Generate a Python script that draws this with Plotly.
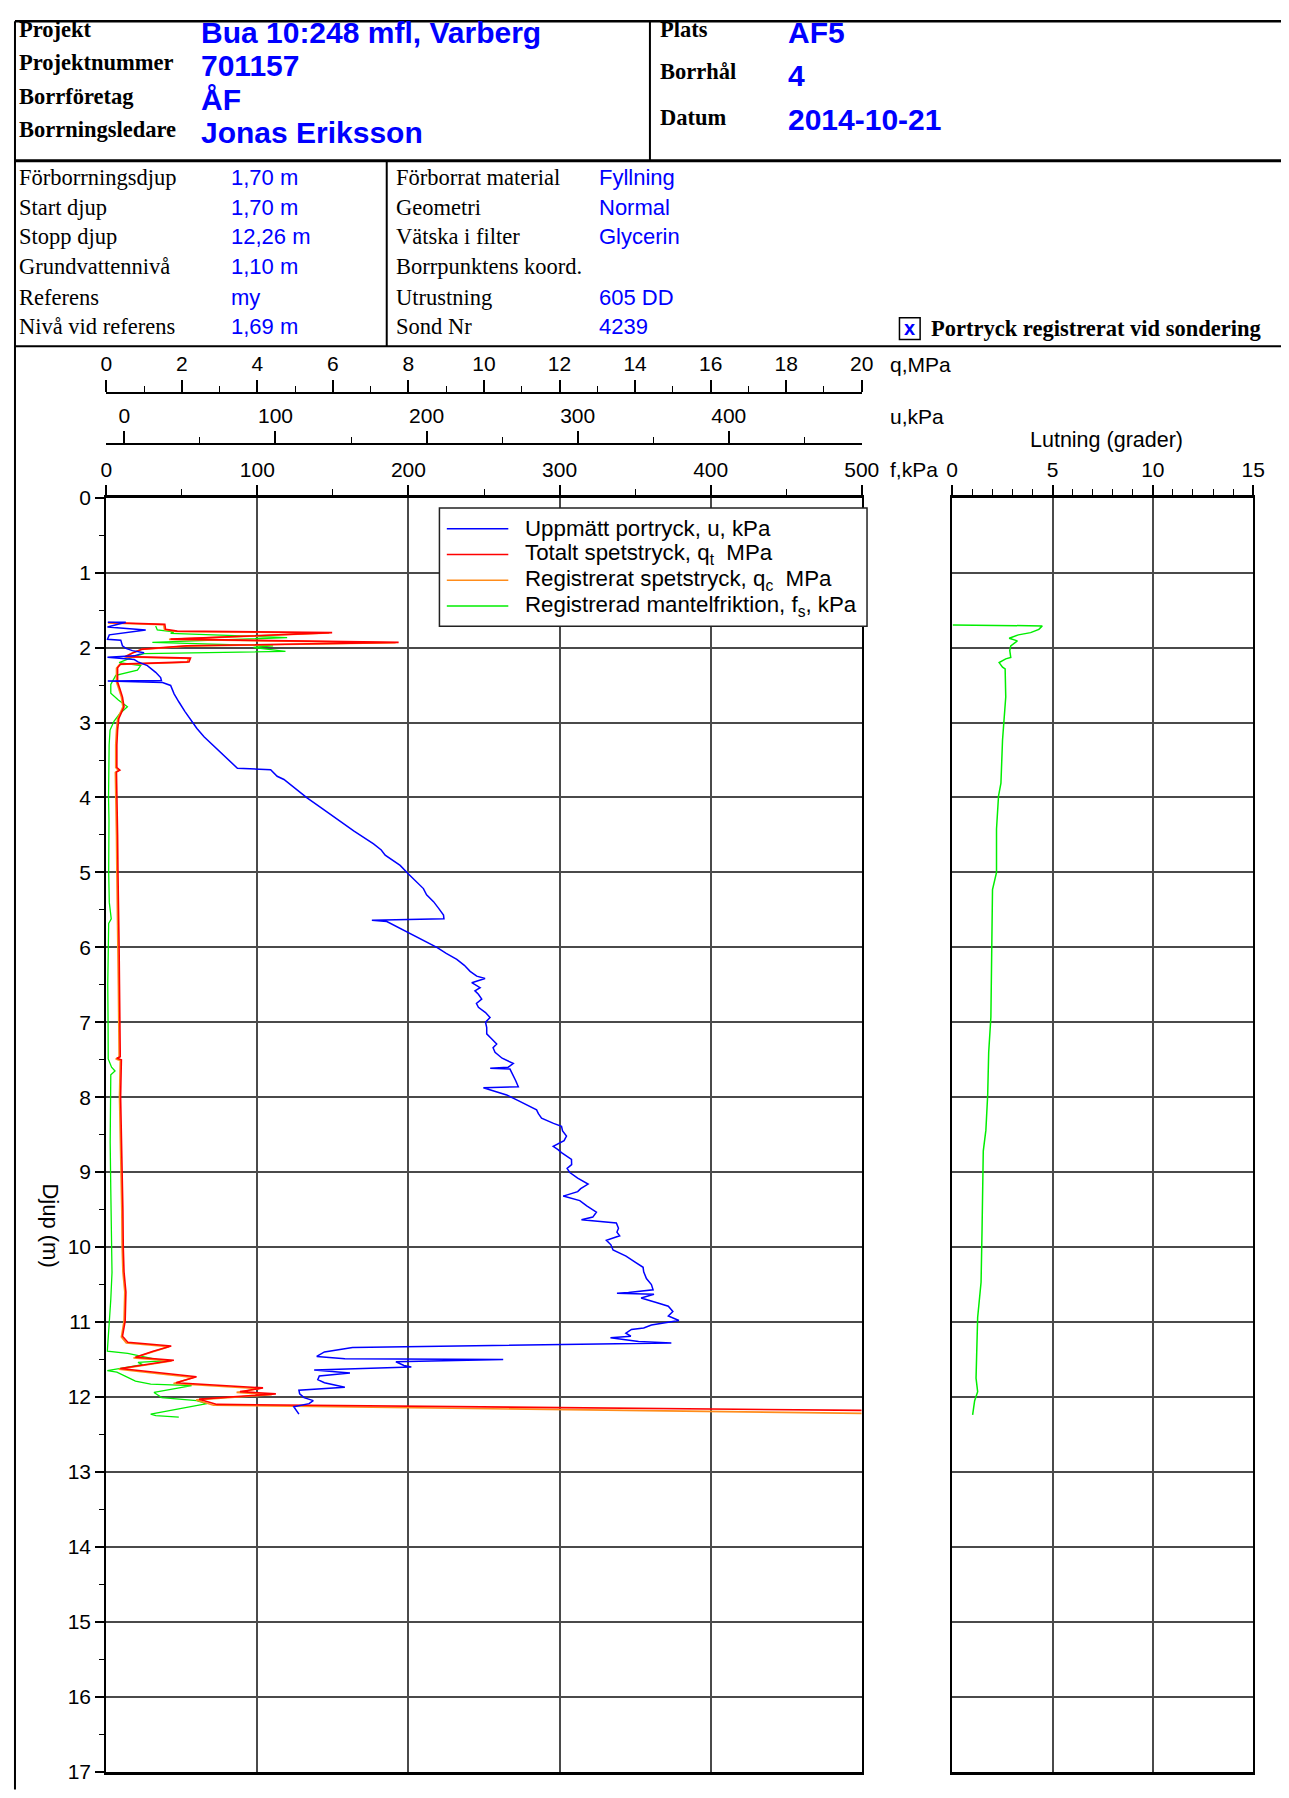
import plotly.graph_objects as go

# ---------------- DATA ----------------
# Uppmätt portryck u (kPa) vs depth (m)
depth_u = [1.66, 1.662, 1.725, 1.765, 1.83, 1.888, 1.90, 1.976, 2.01, 2.04, 2.07, 2.11, 2.13, 2.16, 2.19,
           2.24, 2.33, 2.40, 2.44, 2.445, 2.466, 2.505, 2.617, 2.66, 2.726, 2.85, 2.968, 3.08, 3.19, 3.31,
           3.43, 3.53, 3.61, 3.63, 3.717, 3.76, 3.88, 4.004, 4.15, 4.29, 4.45, 4.62, 4.70, 4.77, 4.84,
           4.907, 5.02, 5.12, 5.216, 5.30, 5.39, 5.48, 5.57, 5.62, 5.638, 5.656, 5.72, 5.79, 5.90, 6.00,
           6.08, 6.16, 6.24, 6.32, 6.384, 6.415, 6.472, 6.538, 6.58, 6.627, 6.69, 6.75, 6.80, 6.87, 6.935,
           7.00, 7.07, 7.155, 7.22, 7.29, 7.34, 7.40, 7.48, 7.55, 7.60, 7.615, 7.625, 7.71, 7.78, 7.86,
           7.875, 7.92, 7.97, 8.04, 8.10, 8.17, 8.22, 8.28, 8.35, 8.39, 8.45, 8.52, 8.58, 8.656, 8.70,
           8.74, 8.83, 8.90, 8.95, 9.006, 9.08, 9.16, 9.22, 9.26, 9.32, 9.38, 9.45, 9.534, 9.60, 9.636,
           9.68, 9.75, 9.80, 9.85, 9.91, 9.97, 10.04, 10.12, 10.20, 10.27, 10.33, 10.42, 10.50, 10.57,
           10.605, 10.615, 10.63, 10.68, 10.74, 10.79, 10.86, 10.92, 10.98, 11.04, 11.08, 11.10, 11.15,
           11.19, 11.21, 11.26, 11.28, 11.34, 11.40, 11.46, 11.49, 11.50, 11.53, 11.58, 11.60, 11.64,
           11.68, 11.72, 11.77, 11.81, 11.87, 11.91, 11.96, 12.01, 12.05, 12.09, 12.13, 12.18, 12.23]
u_kpa = [-11.0, 0.9, -11.2, 14.1, -10.0, -11.2, -2.4, -1.3, 1.0, 5.3, 13.0, 6.5, -11.2, 6.5, 9.0,
         15.2, 20.7, 24.0, 24.5, -11.0, 25.2, 30.6, 32.9, 34.0, 36.1, 40.0, 43.9, 48.0, 52.7, 59.0,
         66.0, 71.0, 74.8, 96.8, 101.1, 105.6, 113.0, 120.9, 131.0, 140.7, 152.0, 164.9, 170.0, 172.6, 178.0,
         182.5, 188.0, 193.0, 197.9, 200.0, 204.6, 208.0, 211.2, 211.5, 163.8, 173.7, 180.0, 187.0, 197.0, 206.8,
         213.0, 220.0, 225.0, 228.8, 233.2, 238.7, 229.9, 235.4, 232.0, 234.3, 236.5, 233.0, 234.3, 239.0, 242.0,
         239.0, 239.8, 239.8, 243.0, 246.4, 244.0, 245.3, 250.0, 257.4, 254.0, 242.1, 255.2, 257.4, 259.0, 260.7,
         237.6, 245.0, 253.0, 260.0, 266.2, 272.8, 274.0, 276.1, 284.0, 289.3, 290.0, 292.6, 291.0, 283.8, 287.0,
         289.3, 295.9, 296.0, 293.0, 294.8, 300.0, 306.9, 302.0, 300.0, 290.4, 301.4, 306.0, 312.4, 310.0, 302.5,
         325.6, 327.0, 326.0, 327.8, 319.0, 322.0, 323.4, 332.0, 338.0, 343.3, 343.7, 345.5, 348.8, 349.9,
         333.6, 326.0, 350.5, 342.0, 352.0, 360.0, 363.0, 360.0, 367.0, 348.8, 343.7, 335.6, 331.9,
         335.2, 321.7, 340.3, 362.0, 151.0, 132.4, 127.3, 145.9, 250.7, 179.7, 185.0, 189.9, 125.6,
         149.3, 129.0, 128.0, 132.4, 145.9, 115.5, 116.0, 118.9, 125.0, 122.2, 112.1, 114.0, 115.5]

# Totalt spetstryck qt (MPa)
depth_qt = [1.665, 1.69, 1.756, 1.78, 1.80, 1.887, 1.93, 1.976, 2.02, 2.064, 2.12, 2.14, 2.19, 2.22,
            2.27, 2.46, 2.55, 2.66, 2.79, 2.95, 3.10, 3.30, 3.60, 3.635, 3.66, 4.00, 4.50, 5.00, 5.50,
            6.00, 6.50, 7.00, 7.46, 7.48, 7.50, 8.00, 8.50, 9.00, 9.50, 10.00, 10.33, 10.60, 10.99,
            11.19, 11.27, 11.32, 11.39, 11.47, 11.51, 11.62, 11.68, 11.73, 11.81, 11.88, 11.93, 11.96,
            12.03, 12.10, 12.18]
qt_mpa = [0.05, 1.55, 1.57, 1.88, 5.98, 1.70, 7.74, 2.14, 0.96, 0.73, 0.51, 2.23, 2.19, 0.38,
          0.30, 0.30, 0.36, 0.43, 0.47, 0.33, 0.30, 0.28, 0.28, 0.36, 0.27, 0.29, 0.30, 0.31, 0.33,
          0.34, 0.35, 0.36, 0.37, 0.28, 0.40, 0.38, 0.40, 0.43, 0.44, 0.45, 0.47, 0.52, 0.50,
          0.43, 0.57, 1.72, 1.24, 0.77, 1.79, 0.37, 1.45, 2.39, 1.85, 4.15, 3.54, 4.49,
          2.46, 2.93, 20.0]

# Registrerat spetstryck qc (MPa)
depth_qc = [1.67, 1.695, 1.76, 1.785, 1.805, 1.89, 1.935, 1.98, 2.025, 2.07, 2.125, 2.145, 2.195, 2.225,
            2.275, 2.46, 2.55, 2.66, 2.79, 2.95, 3.10, 3.30, 3.60, 3.64, 3.665, 4.00, 4.50, 5.00, 5.50,
            6.00, 6.50, 7.00, 7.47, 7.49, 7.51, 8.00, 8.50, 9.00, 9.50, 10.00, 10.33, 10.60, 10.99,
            11.20, 11.28, 11.33, 11.40, 11.48, 11.52, 11.63, 11.69, 11.74, 11.82, 11.89, 11.94, 11.97,
            12.04, 12.11, 12.22]
qc_mpa = [0.05, 1.52, 1.54, 1.84, 5.90, 1.66, 7.66, 2.10, 0.93, 0.70, 0.48, 2.18, 2.14, 0.35,
          0.27, 0.27, 0.33, 0.40, 0.44, 0.30, 0.27, 0.25, 0.25, 0.32, 0.24, 0.26, 0.27, 0.28, 0.30,
          0.31, 0.32, 0.33, 0.34, 0.25, 0.37, 0.35, 0.37, 0.40, 0.41, 0.42, 0.44, 0.49, 0.47,
          0.40, 0.53, 1.66, 1.19, 0.72, 1.73, 0.33, 1.39, 2.31, 1.78, 4.05, 3.45, 4.38,
          2.38, 2.84, 20.0]

# Registrerad mantelfriktion fs (kPa)
depth_fs = [1.711, 1.765, 1.79, 1.81, 1.866, 1.89, 1.93, 1.976, 1.998, 2.05, 2.08, 2.12, 2.20, 2.24,
            2.30, 2.37, 2.49, 2.61, 2.70, 2.79, 2.88, 2.98, 3.10, 3.30, 3.65, 4.00, 4.30, 4.70, 5.00,
            5.40, 5.62, 5.68, 6.00, 6.50, 7.00, 7.49, 7.60, 7.65, 7.70, 8.15, 8.60, 9.24, 9.80, 10.34,
            10.70, 10.90, 11.20, 11.39, 11.42, 11.52, 11.54, 11.57, 11.65, 11.67, 11.74, 11.79, 11.83,
            11.85, 11.94, 12.01, 12.05, 12.09, 12.23, 12.25, 12.27]
fs_kpa = [32.7, 33.8, 44.8, 42.6, 119.7, 88.9, 30.5, 110.4, 97.4, 118.6, 25.0, 18.4, 8.5, 22.8,
          20.6, 6.3, 3.0, 3.0, 8.0, 14.0, 9.0, 5.2, 2.5, 1.9, 1.6, 1.5, 1.8, 1.4, 1.6,
          2.0, 3.3, 1.6, 1.2, 1.0, 1.2, 1.3, 3.5, 5.8, 3.0, 2.8, 2.6, 3.0, 3.5, 3.8,
          3.0, 2.4, 1.5, 0.7, 14.2, 37.9, 21.0, 24.0, 0.7, 7.0, 14.2, 19.3, 29.4,
          56.5, 31.6, 36.7, 59.8, 66.6, 29.4, 32.8, 48.0]

# Lutning (grader)
depth_lut = [1.698, 1.71, 1.756, 1.80, 1.83, 1.875, 1.91, 1.976, 2.04, 2.13, 2.15, 2.20, 2.262, 2.285,
             2.66, 2.99, 3.233, 3.81, 3.98, 4.42, 5.00, 5.23, 5.99, 6.93, 7.40, 7.97, 8.44, 8.72,
             9.76, 10.47, 10.94, 11.75, 11.93, 12.05, 12.24]
lutning = [0.03, 4.49, 4.32, 3.91, 3.30, 2.84, 3.25, 2.92, 2.87, 2.92, 2.67, 2.34, 2.51, 2.64,
           2.67, 2.59, 2.51, 2.43, 2.31, 2.21, 2.21, 2.01, 1.98, 1.93, 1.82, 1.77, 1.68, 1.55,
           1.49, 1.44, 1.27, 1.19, 1.27, 1.12, 1.02]

legend_labels = ["Uppmätt portryck, u, kPa",
                 "Totalt spetstryck, q<sub>t</sub>\u00a0\u00a0MPa",
                 "Registrerat spetstryck, q<sub>c</sub>\u00a0\u00a0MPa",
                 "Registrerad mantelfriktion, f<sub>s</sub>, kPa"]
legend_colors = ["#0000ff", "#ff0000", "#ff8c1a", "#00ee00"]

header_left = [("Projekt", "Bua 10:248 mfl, Varberg"), ("Projektnummer", "701157"),
               ("Borrföretag", "ÅF"), ("Borrningsledare", "Jonas Eriksson")]
header_right = [("Plats", "AF5"), ("Borrhål", "4"), ("Datum", "2014-10-21")]
info_left = [("Förborrningsdjup", "1,70 m"), ("Start djup", "1,70 m"), ("Stopp djup", "12,26 m"),
             ("Grundvattennivå", "1,10 m"), ("Referens", "my"), ("Nivå vid referens", "1,69 m")]
info_mid = [("Förborrat material", "Fyllning"), ("Geometri", "Normal"), ("Vätska i filter", "Glycerin"),
            ("Borrpunktens koord.", ""), ("Utrustning", "605 DD"), ("Sond Nr", "4239")]

# ---------------- LAYOUT HELPERS ----------------
# target pixel positions are mapped through an empirical page-placement correction
W, H = 1273, 1782
AX, BX = 0.983, 5.2
AY, BY = 0.9943, 9.7
def px(x): return ((x - BX) / AX - 8) / W
def py(y): return 1 - ((y - BY) / AY - 8) / H
def fx(local): return (local + 8) * AX + BX      # figure-local px -> target px
def fy(local): return (local + 8) * AY + BY

PL, PR, PT, PB = 105.5, 862.4, 498.9, 1782.0
RL, RR = 953.0, 1254.6
SANS = "Liberation Sans, Arial, sans-serif"
SERIF = "Liberation Serif, Times New Roman, serif"
BLUE = "#0000ff"
GRID = "#4a4a4a"

fig = go.Figure()
fig.add_trace(go.Scatter(x=qc_mpa, y=depth_qc, xaxis="x2", yaxis="y", mode="lines",
                         line=dict(color=legend_colors[2], width=1.6), showlegend=False))
fig.add_trace(go.Scatter(x=qt_mpa, y=depth_qt, xaxis="x2", yaxis="y", mode="lines",
                         line=dict(color=legend_colors[1], width=1.6), showlegend=False))
fig.add_trace(go.Scatter(x=fs_kpa, y=depth_fs, xaxis="x", yaxis="y", mode="lines",
                         line=dict(color=legend_colors[3], width=1.3), showlegend=False))
fig.add_trace(go.Scatter(x=u_kpa, y=depth_u, xaxis="x3", yaxis="y", mode="lines",
                         line=dict(color=legend_colors[0], width=1.5), showlegend=False))
fig.add_trace(go.Scatter(x=lutning, y=depth_lut, xaxis="x4", yaxis="y2", mode="lines",
                         line=dict(color=legend_colors[3], width=1.5), showlegend=False))

tickfont = dict(family=SANS, size=21, color="black")
common_top = dict(side="top", ticks="outside", tickcolor="black", tickwidth=1.5,
                  zeroline=False, showline=True, linecolor="black", tickfont=tickfont, tickmode="linear")

fig.update_layout(
    width=W, height=H, margin=dict(l=0, r=0, t=0, b=0),
    paper_bgcolor="white", plot_bgcolor="white", showlegend=False,
    xaxis=dict(domain=[px(PL), px(PR)], anchor="y", range=[0, 500], tick0=0, dtick=100, ticklen=10,
               minor=dict(tickmode="linear", tick0=0, dtick=50, ticks="outside", ticklen=6,
                          tickcolor="black", tickwidth=1, showgrid=False),
               showgrid=True, gridcolor=GRID, gridwidth=1.5, linewidth=2.5, mirror=True, **common_top),
    xaxis2=dict(overlaying="x", anchor="free", position=py(393), range=[0, 20], tick0=0, dtick=2,
                ticklen=12, minor=dict(tickmode="linear", tick0=0, dtick=1, ticks="outside", ticklen=6,
                                       tickcolor="black", tickwidth=1, showgrid=False),
                showgrid=False, linewidth=2, **common_top),
    xaxis3=dict(overlaying="x", anchor="free", position=py(445), range=[-12, 488], tick0=0, dtick=100,
                ticklen=12, minor=dict(tickmode="linear", tick0=0, dtick=50, ticks="outside", ticklen=6,
                                       tickcolor="black", tickwidth=1, showgrid=False),
                showgrid=False, linewidth=2, **common_top),
    xaxis4=dict(domain=[px(RL), px(RR)], anchor="y2", range=[0, 15], tick0=0, dtick=5, ticklen=10,
                minor=dict(tickmode="linear", tick0=0, dtick=1, ticks="outside", ticklen=6,
                           tickcolor="black", tickwidth=1, showgrid=False),
                showgrid=True, gridcolor=GRID, gridwidth=1.5, linewidth=2.5, mirror=True, **common_top),
    yaxis=dict(domain=[py(PB), py(PT)], anchor="x", range=[17, 0], tickmode="linear", tick0=0, dtick=1,
               ticks="outside", ticklen=9, tickwidth=1.5, tickcolor="black", ticklabeloverflow="allow",
               minor=dict(tickmode="linear", tick0=0, dtick=0.5, ticks="outside", ticklen=5,
                          tickcolor="black", tickwidth=1, showgrid=False),
               showgrid=True, gridcolor=GRID, gridwidth=1.5, zeroline=False,
               showline=True, linecolor="black", linewidth=2, mirror=True, tickfont=tickfont),
    yaxis2=dict(domain=[py(PB), py(PT)], anchor="x4", range=[17, 0], tickmode="linear", tick0=0, dtick=1,
                showticklabels=False, ticks="", showgrid=True, gridcolor=GRID, gridwidth=1.5,
                zeroline=False, showline=True, linecolor="black", linewidth=2, mirror=True),
)

shapes = []
annotations = []

def line(x0, y0, x1, y1, w=2, color="black", layer="above"):
    shapes.append(dict(type="line", xref="paper", yref="paper", x0=px(x0), y0=py(y0), x1=px(x1), y1=py(y1),
                       line=dict(color=color, width=w), layer=layer))

def text(x, y, s, size, family, color="black", xanchor="left", bold=False, angle=0):
    annotations.append(dict(xref="paper", yref="paper", x=px(x), y=py(y), text=(f"<b>{s}</b>" if bold else s),
                            showarrow=False, xanchor=xanchor, yanchor="middle", textangle=angle,
                            font=dict(family=family, size=size, color=color)))

# Frame lines (outer ones clamped to the figure edge)
top_y = max(8.5, fy(1.3))
left_x = max(9.0, fx(1.0))
line(left_x, top_y, 1300, top_y, 2.5)
line(left_x, top_y, left_x, 1800, 2)
line(left_x, 159.4, 1300, 159.4, 3)
line(650.2, top_y, 650.2, 159.4, 2)
line(386.5, 159.4, 386.5, 346.3, 2)
line(left_x, 346.3, 1300, 346.3, 2)

# Header texts
lab_y = [27.0, 60.0, 94.3, 128.4]
val_y = [30.5, 63.6, 97.3, 130.7]
for (lab, val), ly, vy in zip(header_left, lab_y, val_y):
    text(16, ly, lab, 22.5, SERIF, bold=True)
    text(198.4, vy, val, 30, SANS, color=BLUE, bold=True)
rlab_y = [27.0, 70.0, 115.8]
rval_y = [30.5, 73.4, 118.1]
for (lab, val), ly, vy in zip(header_right, rlab_y, rval_y):
    text(658, ly, lab, 22.5, SERIF, bold=True)
    text(786.7, vy, val, 30, SANS, color=BLUE, bold=True)

row_y = [176.6, 206.4, 236.2, 266.0, 297.0, 326.8]
for (lab, val), ry in zip(info_left, row_y):
    text(16, ry, lab, 22.5, SERIF)
    text(228.2, ry, val, 22, SANS, color=BLUE)
for (lab, val), ry in zip(info_mid, row_y):
    text(393.4, ry, lab, 22.5, SERIF)
    if val:
        text(597.5, ry, val, 22, SANS, color=BLUE)

# checkbox
shapes.append(dict(type="rect", xref="paper", yref="paper", x0=px(900.2), y0=py(339.5), x1=px(920.9),
                   y1=py(317.7), line=dict(color="black", width=1.5), fillcolor="white"))
text(910.5, 328.2, "x", 20, SANS, color=BLUE, xanchor="center", bold=True)
text(930, 328.0, "Portryck registrerat vid sondering", 22.5, SERIF, bold=True)

# Axis titles
text(888.8, 364.7, "q,MPa", 21, SANS)
text(888.8, 417.4, "u,kPa", 21, SANS)
text(888.8, 470.0, "f,kPa", 21, SANS)
text(1107.8, 440.4, "Lutning (grader)", 21.5, SANS, xanchor="center")
text(49.3, 1232.0, "Djup (m)", 22, SANS, xanchor="center", angle=90)

# Custom legend
shapes.append(dict(type="rect", xref="paper", yref="paper", x0=px(439.3), y0=py(628.3), x1=px(867.7),
                   y1=py(509.3), line=dict(color="#222222", width=1.5), fillcolor="white", layer="above"))
leg_y = [530.0, 556.0, 582.0, 608.0]
for lab, col, ly in zip(legend_labels, legend_colors, leg_y):
    line(446.7, ly, 508.3, ly, 1.5, color=col)
    text(523.3, ly, lab, 22.3, SANS)

fig.update_layout(shapes=shapes, annotations=annotations)
fig.write_html("out.html", config={"displayModeBar": False})
